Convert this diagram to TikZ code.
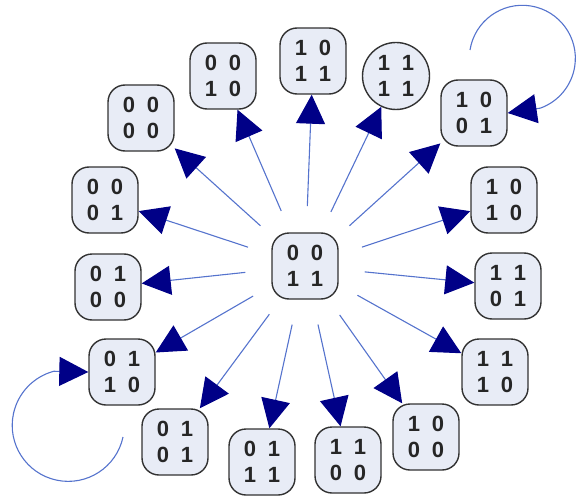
\documentclass[tikz,border=0pt]{standalone}
\usepackage{fontspec}
\setmainfont{Liberation Sans}
\usetikzlibrary{arrows.meta}
\definecolor{edgeblue}{RGB}{85,115,205}
\definecolor{tipnavy}{RGB}{0,0,135}
\definecolor{nodefill}{RGB}{232,236,246}
\definecolor{nodeline}{RGB}{50,50,50}
\newcommand\mtx[4]{#1\hspace{12pt}#2\\#3\hspace{12pt}#4}
\begin{document}
\begin{tikzpicture}[x=1pt,y=1pt,
  state/.style={draw=nodeline, line width=1.4pt, fill=nodefill, rounded corners=17pt,
    minimum width=66pt, minimum height=66pt, inner sep=0pt, align=center,
    font=\fontsize{22}{26}\selectfont\bfseries, text=black!85},
  cstate/.style={state, circle, sharp corners, minimum size=67pt},
  edge/.style={draw=edgeblue, line width=1.1pt, shorten <=60pt,
    -{Triangle[length=29pt,width=29pt,color=tipnavy]}},
  loopedge/.style={draw=edgeblue, line width=1.1pt,
    -{Triangle[length=29pt,width=29pt,color=tipnavy]}}
]
\useasboundingbox (0,0) rectangle (577,-497);
\node[state] (c) at (305,-266) {\mtx0011};
\node[state] (n1011) at (313,-61) {\mtx1011};
\node[state] (n0010) at (223,-76) {\mtx0010};
\node[cstate] (n1111) at (396,-76) {\mtx1111};
\node[state] (n0000) at (141,-118) {\mtx0000};
\node[state] (n1001) at (474,-113) {\mtx1001};
\node[state] (n0001) at (105,-200) {\mtx0001};
\node[state] (n1010) at (504,-200) {\mtx1010};
\node[state] (n0100) at (108,-287) {\mtx0100};
\node[state] (n1101) at (508,-286) {\mtx1101};
\node[state] (n0110) at (122,-372) {\mtx0110};
\node[state] (n1110) at (495,-372) {\mtx1110};
\node[state] (n0101) at (175,-442) {\mtx0101};
\node[state] (n1000) at (426,-437) {\mtx1000};
\node[state] (n0111) at (262,-462) {\mtx0111};
\node[state] (n1100) at (348,-460) {\mtx1100};
\foreach \t in {n1011,n0010,n1111,n0000,n1001,n0001,n1010,n0100,n1101,n0110,n1110,n0101,n1000,n0111,n1100}
  \draw[edge] (c.center) -- (\t);
\coordinate (la) at (470,-50);
\draw[loopedge] (la) arc[start angle=171, end angle=-70, radius=53] -- (n1001.east);
\coordinate (lb) at (123,-437);
\draw[loopedge] (lb) arc[start angle=-12, end angle=-255, radius=56] -- (n0110.west);
\end{tikzpicture}
\end{document}
